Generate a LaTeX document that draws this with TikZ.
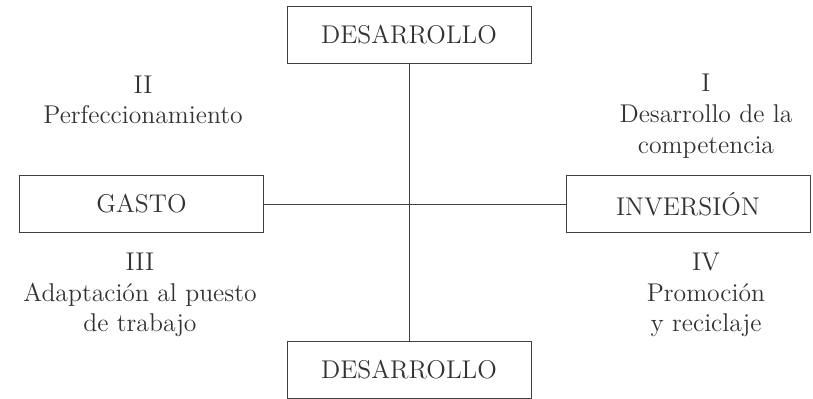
\documentclass[tikz,border=0pt]{standalone}
\usepackage{fontspec}
\usepackage{tikz}
\usetikzlibrary{calc}

\begin{document}
\begin{tikzpicture}[
        every node/.style={font=\fontsize{14.6}{17.5}\selectfont, text=black!80},
        caja/.style={draw=black!75, line width=0.5pt, minimum width=4.88cm, minimum height=1.13cm},
        cuadrante/.style={align=center}
    ]
        \useasboundingbox (0,0) rectangle (16.26,7.98);

        \coordinate (A) at (8.18,7.28);
        \coordinate (B) at (8.18,0.58);
        \coordinate (C) at (2.83,3.90);
        \coordinate (D) at (13.76,3.90);
        \coordinate (E) at (2.86,5.98);
        \coordinate (F) at (14.12,5.66);
        \coordinate (G) at (2.80,2.08);
        \coordinate (H) at (14.12,2.08);

        \node[caja] (DA) at (A) {DESARROLLO};
        \node[caja] (DB) at (B) {DESARROLLO};
        \node[caja] (GA) at (C) {GASTO};
        \node[caja] (IN) at (D) {INVERSIÓN};

        \draw[black!75, line width=0.5pt] (DA) -- (DB);
        \draw[black!75, line width=0.5pt] (GA) -- (IN);

        \node[cuadrante] (Q2) at (E) {II\\Perfeccionamiento};
        \node[cuadrante] (Q1) at (F) {I\\Desarrollo de la\\competencia};
        \node[cuadrante] (Q3) at (G) {III\\Adaptación al puesto\\de trabajo};
        \node[cuadrante] (Q4) at (H) {IV\\Promoción\\y reciclaje};
    \end{tikzpicture}
\end{document}
